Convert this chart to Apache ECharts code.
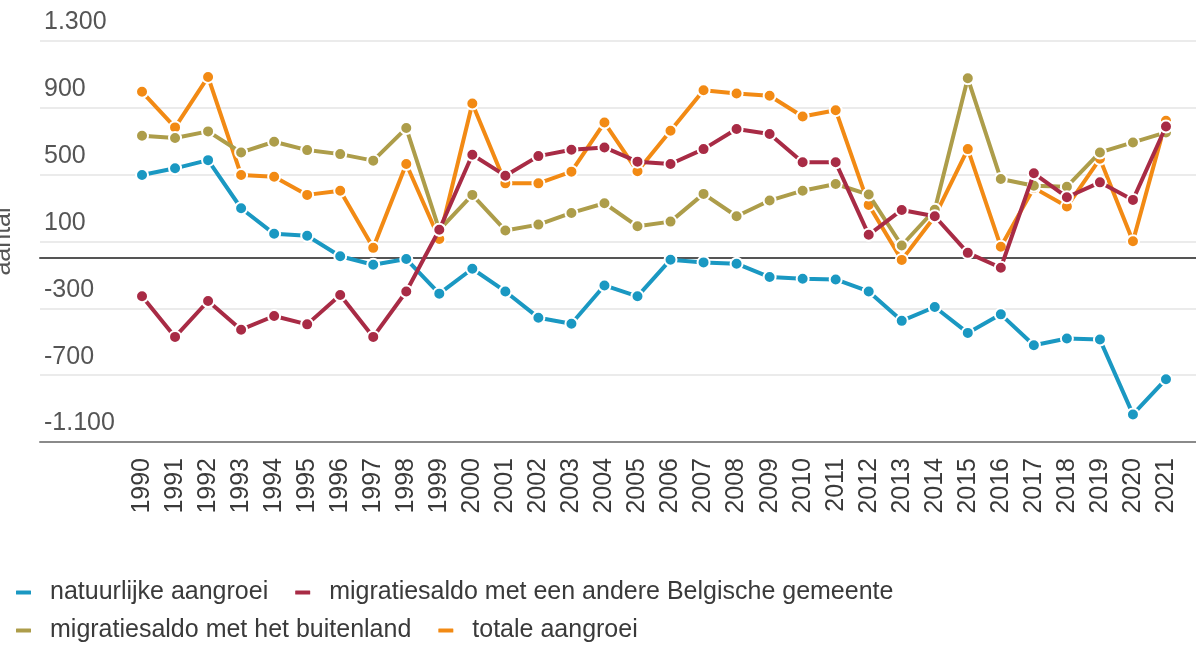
<!DOCTYPE html>
<html>
<head>
<meta charset="utf-8">
<script src="https://cdn.jsdelivr.net/npm/echarts@6/dist/echarts.min.js"></script>
<style>
  html, body { margin: 0; padding: 0; background: #fff; }
  #chart-container { width: 1196px; height: 650px; }
</style>
</head>
<body>
<div id="chart-container"></div>
<script>
var years = ['1990', '1991', '1992', '1993', '1994', '1995', '1996', '1997', '1998', '1999',
    '2000', '2001', '2002', '2003', '2004', '2005', '2006', '2007', '2008', '2009',
    '2010', '2011', '2012', '2013', '2014', '2015', '2016', '2017', '2018', '2019',
    '2020', '2021'];

var natuurlijk = [498, 538, 587, 299, 146, 134, 12, -39, -5, -212,
    -63, -199, -356, -392, -163, -228, -9, -25, -33, -113,
    -123, -127, -199, -375, -292, -447, -336, -521, -481, -487,
    -935, -724];
var belgisch = [-228, -471, -256, -428, -346, -396, -220, -471, -199, 170,
    619, 494, 611, 649, 663, 578, 564, 653, 773, 743,
    574, 574, 140, 289, 251, 32, -57, 508, 365, 454,
    349, 788];
var buitenland = [733, 719, 759, 633, 697, 647, 623, 584, 779, 170,
    379, 166, 201, 271, 329, 191, 219, 385, 251, 345,
    404, 444, 381, 76, 290, 1077, 474, 434, 428, 633,
    693, 753];
var totaal = [996, 783, 1085, 498, 488, 379, 404, 62, 564, 115,
    926, 448, 448, 518, 812, 520, 763, 1005, 986, 972,
    848, 886, 319, -10, 250, 653, 69, 421, 309, 595,
    102, 822];

var names = ['natuurlijke aangroei', 'migratiesaldo met een andere Belgische gemeente',
    'migratiesaldo met het buitenland', 'totale aangroei'];
var colors = ['#1a98c2', '#a82b45', '#ad9d4a', '#f28a14'];

var dom = document.getElementById('chart-container');
var myChart = echarts.init(dom, null, { renderer: 'canvas' });

function fmt(v) {
    var s = String(Math.abs(v)).replace(/\B(?=(\d{3})+(?!\d))/g, '.');
    return (v < 0 ? '-' : '') + s;
}

function lineSeries(i, data, z) {
    return {
        name: names[i],
        type: 'line',
        xAxisIndex: 2,
        yAxisIndex: 1,
        data: data,
        z: z,
        symbol: 'circle',
        symbolSize: 12,
        showAllSymbol: true,
        lineStyle: { width: 4, color: colors[i] },
        itemStyle: { color: colors[i], borderColor: '#fff', borderWidth: 2 }
    };
}

var option = {
    animation: false,
    color: colors,
    grid: [
        { left: 40, right: 0, top: 41, bottom: 208, outerBoundsMode: 'none' },
        { left: 125.5, right: 13.5, top: 41, bottom: 208, outerBoundsMode: 'none' }
    ],
    legend: {
        left: 14,
        top: 580,
        width: 950,
        padding: 0,
        icon: 'roundRect',
        itemWidth: 17,
        itemHeight: 6,
        itemGap: 13,
        data: names,
        textStyle: {
            fontFamily: 'Liberation Sans, Arial, sans-serif',
            fontSize: 25,
            lineHeight: 25,
            color: '#3a3a3a',
            padding: [0, 12, 0, 13]
        }
    },
    xAxis: [
        {
            gridIndex: 0, type: 'value', min: 0, max: 1, position: 'top',
            axisLine: { onZero: true, lineStyle: { color: '#555', width: 2 } },
            axisTick: { show: false }, axisLabel: { show: false }, splitLine: { show: false }
        },
        {
            gridIndex: 0, type: 'value', min: 0, max: 1, position: 'bottom',
            axisLine: { onZero: false, lineStyle: { color: '#8a8a8a', width: 2 } },
            axisTick: { show: false }, axisLabel: { show: false }, splitLine: { show: false }
        },
        {
            gridIndex: 1, type: 'category', data: years, boundaryGap: true,
            axisLine: { show: false }, axisTick: { show: false },
            axisLabel: {
                rotate: 90, interval: 0, margin: 16,
                fontFamily: 'Liberation Sans, Arial, sans-serif',
                fontSize: 25, color: '#3a3a3a'
            }
        }
    ],
    yAxis: [
        {
            gridIndex: 0, type: 'value', min: -1100, max: 1300, interval: 400,
            name: 'aantal', nameLocation: 'middle', nameRotate: 90, nameGap: 24,
            nameTextStyle: { fontFamily: 'Liberation Sans, Arial, sans-serif', fontSize: 25, color: '#555' },
            axisLine: { show: false }, axisTick: { show: false },
            axisLabel: {
                inside: true, margin: 4, align: 'left', verticalAlign: 'bottom',
                padding: [0, 0, 6, 0],
                fontFamily: 'Liberation Sans, Arial, sans-serif',
                fontSize: 25, color: '#555',
                formatter: fmt
            },
            splitLine: { lineStyle: { color: '#ebebeb', width: 2 } }
        },
        {
            gridIndex: 1, type: 'value', min: -1100, max: 1300, interval: 400,
            show: false, splitLine: { show: false }
        }
    ],
    series: [
        lineSeries(0, natuurlijk, 2),
        lineSeries(1, belgisch, 5),
        lineSeries(2, buitenland, 4),
        lineSeries(3, totaal, 3)
    ]
};

myChart.setOption(option);
window.addEventListener('resize', myChart.resize);
</script>
</body>
</html>
